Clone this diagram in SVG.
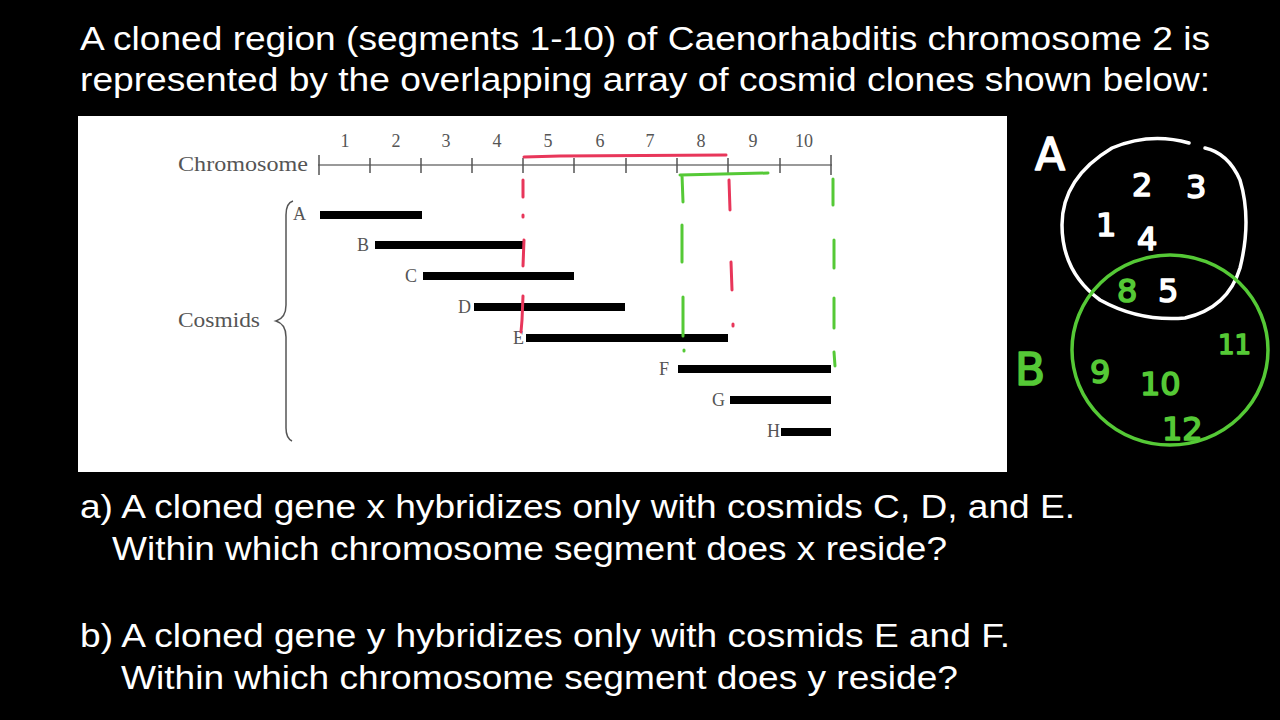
<svg xmlns="http://www.w3.org/2000/svg" width="1280" height="720" viewBox="0 0 1280 720">
<style>
.q{font-family:"Liberation Sans",Arial,sans-serif;font-size:34px;fill:#fff}
.s{font-family:"Liberation Serif","Times New Roman",serif;fill:#555}
.num{font-size:18px;text-anchor:middle}
.lab{font-size:18px;text-anchor:end}
.bar{fill:#000}
.red{stroke:#e8365a;stroke-width:3;fill:none;stroke-linecap:round}
.grn{stroke:#55c936;stroke-width:3;fill:none;stroke-linecap:round}
.hw{font-family:"DejaVu Sans",sans-serif;stroke-width:1.6;stroke-linejoin:round}
.hwW{fill:#fff;stroke:#fff}
.hwG{fill:#55c936;stroke:#55c936}
</style>
<rect width="1280" height="720" fill="#000"/>
<g id="title">
<text class="q" x="80" y="50" textLength="1130" lengthAdjust="spacingAndGlyphs">A cloned region (segments 1-10) of Caenorhabditis chromosome 2 is</text>
<text class="q" x="80" y="91" textLength="1130" lengthAdjust="spacingAndGlyphs">represented by the overlapping array of cosmid clones shown below:</text>
</g>
<g id="panel">
<rect x="78" y="116" width="929" height="356" fill="#fff"/>
</g>
<g id="chromosome">
<text class="s" x="178" y="171" font-size="20" textLength="130" lengthAdjust="spacingAndGlyphs">Chromosome</text>
<line x1="318" y1="165" x2="832" y2="165" stroke="#999" stroke-width="2"/>
<g stroke="#555" stroke-width="1.5">
<line x1="319" y1="155" x2="319" y2="175"/>
<line x1="370" y1="158" x2="370" y2="173"/>
<line x1="421" y1="158" x2="421" y2="173"/>
<line x1="472" y1="158" x2="472" y2="173"/>
<line x1="523" y1="158" x2="523" y2="173"/>
<line x1="574" y1="158" x2="574" y2="173"/>
<line x1="626" y1="158" x2="626" y2="173"/>
<line x1="677" y1="158" x2="677" y2="173"/>
<line x1="728" y1="158" x2="728" y2="173"/>
<line x1="780" y1="158" x2="780" y2="173"/>
<line x1="831" y1="155" x2="831" y2="175"/>
</g>
<g class="s num">
<text x="345" y="147">1</text><text x="396" y="147">2</text><text x="446" y="147">3</text><text x="497" y="147">4</text><text x="548" y="147">5</text><text x="600" y="147">6</text><text x="650" y="147">7</text><text x="701" y="147">8</text><text x="753" y="147">9</text><text x="804" y="147">10</text>
</g>
</g>
<g id="cosmids">
<text class="s" x="178" y="327" font-size="20" textLength="82" lengthAdjust="spacingAndGlyphs">Cosmids</text>
<path d="M293,201 Q286,203 286,215 L286,305 Q286,318 276,321 Q286,324 286,337 L286,428 Q286,438 292,441" fill="none" stroke="#555" stroke-width="1.5"/>
</g>
<g id="cosmid-A"><text class="s lab" x="306" y="220">A</text><rect class="bar" x="320" y="211" width="102" height="8"/></g>
<g id="cosmid-B"><text class="s lab" x="369" y="251">B</text><rect class="bar" x="375" y="241" width="148" height="8"/></g>
<g id="cosmid-C"><text class="s lab" x="417" y="282">C</text><rect class="bar" x="423" y="272" width="151" height="8"/></g>
<g id="cosmid-D"><text class="s lab" x="471" y="313">D</text><rect class="bar" x="474" y="303" width="151" height="8"/></g>
<g id="cosmid-E"><text class="s lab" x="524" y="344">E</text><rect class="bar" x="526" y="334" width="202" height="8"/></g>
<g id="cosmid-F"><text class="s lab" x="669" y="375">F</text><rect class="bar" x="678" y="365" width="153" height="8"/></g>
<g id="cosmid-G"><text class="s lab" x="725" y="406">G</text><rect class="bar" x="730" y="396" width="101" height="8"/></g>
<g id="cosmid-H"><text class="s lab" x="780" y="437">H</text><rect class="bar" x="781" y="428" width="50" height="8"/></g>
<g id="annotations">
<path class="red" d="M524,157 L560,156 L726,155"/>
<path class="red" d="M523,180 L523,197 M523,215 L523,217 M524,240 L523,266 M523,296 L522,320 L521,332"/>
<path class="red" d="M729,180 L730,210 M731,262 L732,290 M733,324 L733,326"/>
<path class="grn" d="M680,175 L768,173 M682,175 L683,202"/>
<path class="grn" d="M682,225 L682,262 M683,297 L683,336 M684,350 L684,351"/>
<path class="grn" d="M833,179 L833,205 M834,240 L834,268 M834,298 L834,328 M834,352 L835,366"/>
</g>
<g id="venn">
<path d="M1189,143 Q1150,132 1112,148 Q1062,178 1062,225 Q1062,272 1100,300 Q1140,322 1185,318 Q1228,308 1240,268 Q1252,220 1240,180 Q1228,153 1205,148" fill="none" stroke="#fff" stroke-width="3.5" stroke-linecap="round"/>
<ellipse cx="1170" cy="350" rx="98" ry="95" fill="none" stroke="#55c936" stroke-width="3.5"/>
<text class="hw hwW" x="1035" y="170" font-size="44">A</text>
<g class="hw hwW" font-size="32">
<text x="1096" y="236">1</text>
<text x="1132" y="196">2</text>
<text x="1186" y="198">3</text>
<text x="1137" y="250">4</text>
<text x="1158" y="302">5</text>
</g>
<g class="hw hwG" font-size="32">
<text x="1117" y="302">8</text>
<text x="1090" y="383">9</text>
<text x="1140" y="395">10</text>
<text x="1218" y="354" font-size="26">11</text>
<text x="1162" y="440">12</text>
</g>
<text class="hw hwG" x="1015" y="385" font-size="44">B</text>
</g>
<g id="questions">
<text class="q" x="80" y="518" textLength="995" lengthAdjust="spacingAndGlyphs">a) A cloned gene x hybridizes only with cosmids C, D, and E.</text>
<text class="q" x="112" y="560" textLength="835" lengthAdjust="spacingAndGlyphs">Within which chromosome segment does x reside?</text>
<text class="q" x="80" y="647" textLength="930" lengthAdjust="spacingAndGlyphs">b) A cloned gene y hybridizes only with cosmids E and F.</text>
<text class="q" x="121" y="689" textLength="837" lengthAdjust="spacingAndGlyphs">Within which chromosome segment does y reside?</text>
</g>
</svg>
